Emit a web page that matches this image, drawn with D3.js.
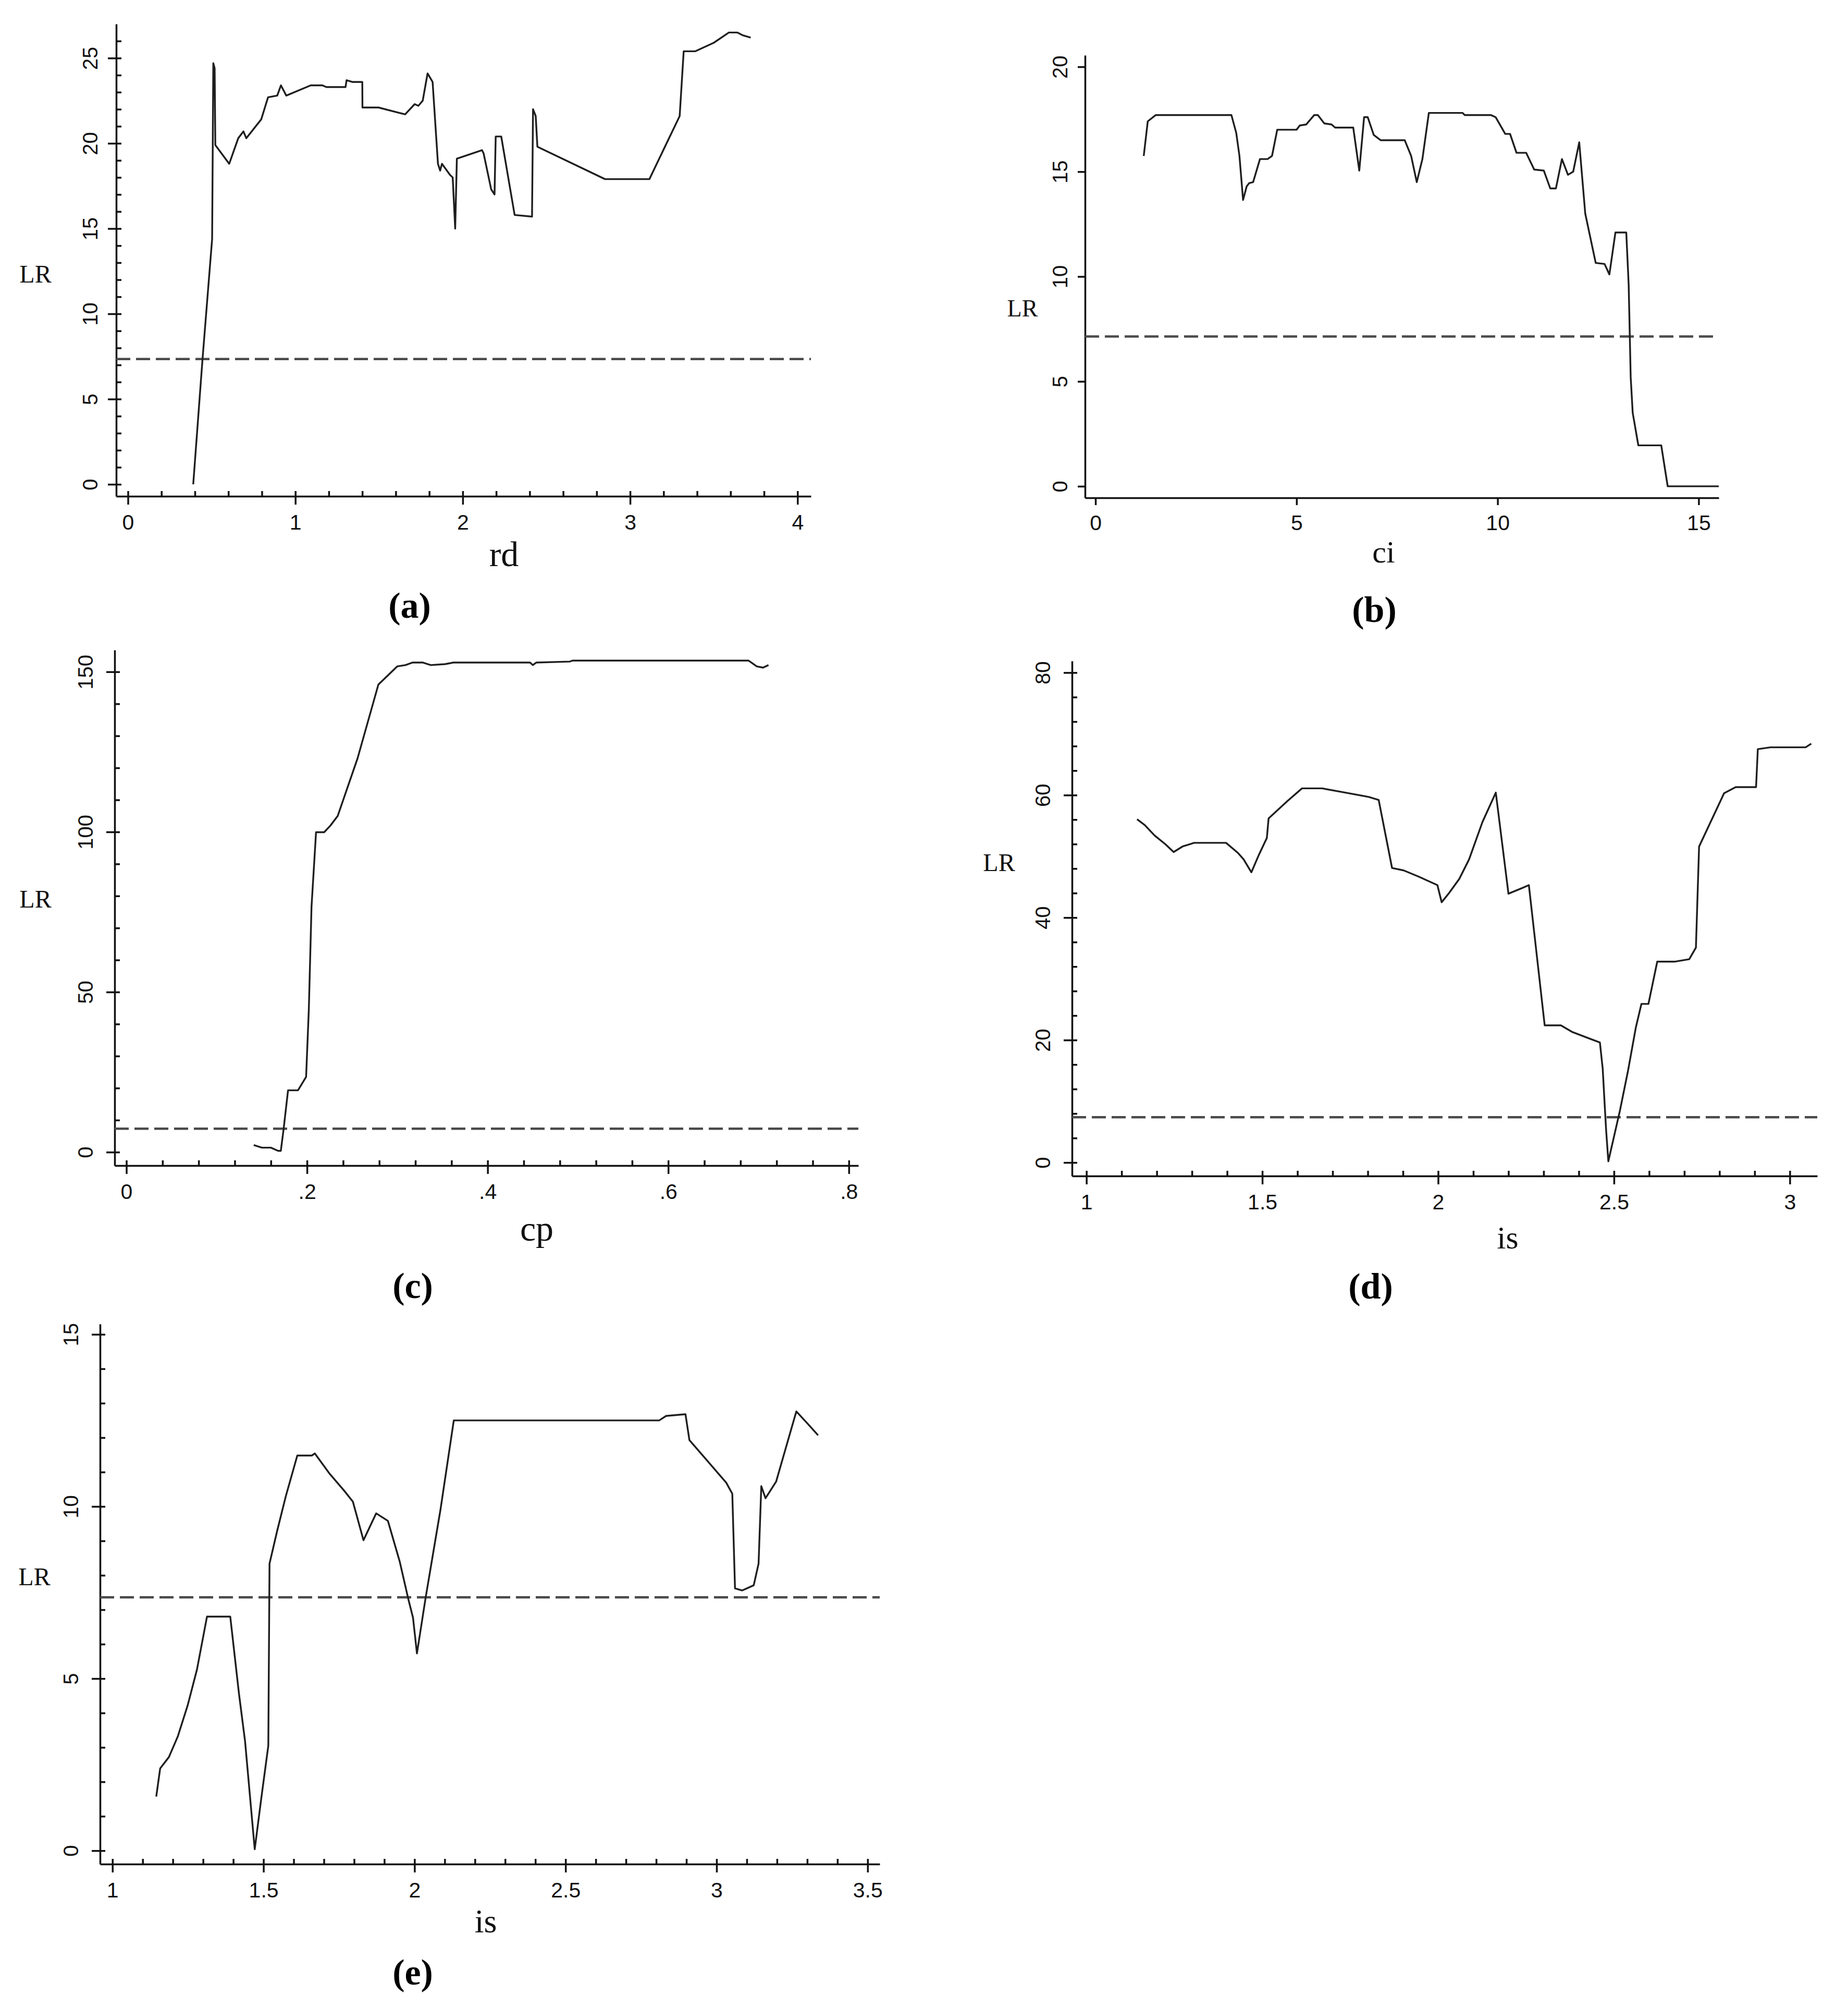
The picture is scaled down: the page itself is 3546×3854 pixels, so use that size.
<!DOCTYPE html>
<html>
<head>
<meta charset="utf-8">
<script src="https://cdnjs.cloudflare.com/ajax/libs/d3/7.8.5/d3.min.js"></script>
<style>
	body { margin: 0; background: #fff; }
</style>
</head>
<body>
<svg></svg>
<script>
// Data: [threshold value, LR]
let rdData = [[0.39, 0], [0.446, 7.4], [0.503, 14.4], [0.51, 24.7], [0.518, 24.4], [0.522, 19.9],
	[0.605, 18.8], [0.659, 20.3], [0.69, 20.7], [0.707, 20.3], [0.796, 21.4], [0.837, 22.7],
	[0.892, 22.8], [0.914, 23.4], [0.946, 22.8], [1.092, 23.4], [1.162, 23.4], [1.185, 23.3],
	[1.3, 23.3], [1.306, 23.7], [1.34, 23.6], [1.4, 23.6], [1.401, 22.1], [1.497, 22.1],
	[1.656, 21.7], [1.713, 22.3], [1.735, 22.2], [1.761, 22.5], [1.79, 24.1], [1.82, 23.6],
	[1.852, 18.8], [1.865, 18.4], [1.876, 18.8], [1.924, 18.15], [1.94, 18.0], [1.955, 15.0],
	[1.965, 19.1], [2.115, 19.6], [2.125, 19.4], [2.17, 17.3], [2.19, 17.0], [2.197, 20.4],
	[2.23, 20.4], [2.31, 15.8], [2.414, 15.7], [2.42, 22.0], [2.436, 21.6], [2.446, 19.8],
	[2.85, 17.9], [3.115, 17.9], [3.296, 21.6], [3.32, 25.4], [3.39, 25.4], [3.5, 25.9],
	[3.59, 26.5], [3.64, 26.5], [3.67, 26.35], [3.72, 26.2]];

let ciData = [[1.2, 15.75], [1.3, 17.4], [1.5, 17.7], [3.38, 17.7], [3.5, 16.85], [3.58, 15.75],
	[3.67, 13.65], [3.76, 14.3], [3.82, 14.45], [3.92, 14.5], [4.09, 15.6], [4.28, 15.6],
	[4.39, 15.75], [4.52, 17.0], [5.0, 17.0], [5.08, 17.2], [5.24, 17.25], [5.44, 17.7],
	[5.53, 17.7], [5.69, 17.3], [5.87, 17.25], [5.96, 17.1], [6.41, 17.1], [6.56, 15.05],
	[6.68, 17.6], [6.77, 17.6], [6.92, 16.75], [7.09, 16.5], [7.69, 16.5], [7.85, 15.75],
	[7.99, 14.5], [8.13, 15.6], [8.29, 17.8], [9.13, 17.8], [9.18, 17.7], [9.83, 17.7],
	[9.95, 17.6], [10.19, 16.8], [10.31, 16.8], [10.47, 15.9], [10.71, 15.9], [10.91, 15.1],
	[11.15, 15.05], [11.31, 14.2], [11.45, 14.2], [11.6, 15.6], [11.75, 14.85], [11.88, 15.0],
	[12.03, 16.4], [12.18, 13.0], [12.44, 10.65], [12.66, 10.6], [12.78, 10.1], [12.93, 12.1],
	[13.2, 12.1], [13.26, 9.6], [13.31, 5.2], [13.36, 3.5], [13.5, 1.95], [14.07, 1.95],
	[14.23, 0], [15.5, 0]];

let cpData = [[0.141, 2.2], [0.15, 1.4], [0.16, 1.4], [0.168, 0.4], [0.171, 0.4], [0.174, 7.0],
	[0.179, 19.3], [0.19, 19.3], [0.199, 23.5], [0.202, 44.5], [0.205, 76.7], [0.21, 99.9],
	[0.219, 99.9], [0.226, 102], [0.234, 105], [0.256, 123], [0.279, 146], [0.3, 151.7],
	[0.309, 152.1], [0.317, 152.9], [0.328, 152.9], [0.337, 152.1], [0.353, 152.4],
	[0.362, 152.9], [0.447, 152.9], [0.45, 152.1], [0.454, 152.9], [0.491, 153.2],
	[0.494, 153.5], [0.689, 153.5], [0.698, 151.7], [0.705, 151.3], [0.711, 152.1]];

let isData = [[1.144, 56.05], [1.166, 55.1], [1.194, 53.4], [1.224, 52.0], [1.248, 50.7],
	[1.273, 51.6], [1.306, 52.2], [1.397, 52.2], [1.43, 50.6], [1.447, 49.5], [1.469, 47.4],
	[1.49, 50.2], [1.513, 53.0], [1.518, 56.2], [1.571, 59.0], [1.613, 61.1], [1.67, 61.1],
	[1.737, 60.4], [1.803, 59.7], [1.831, 59.2], [1.869, 48.1], [1.902, 47.7], [1.944, 46.7],
	[1.998, 45.3], [2.01, 42.5], [2.031, 44.0], [2.06, 46.3], [2.088, 49.5], [2.126, 55.6],
	[2.164, 60.4], [2.2, 43.9], [2.238, 44.8], [2.258, 45.3], [2.303, 22.4], [2.349, 22.4],
	[2.382, 21.3], [2.46, 19.6], [2.468, 15.3], [2.474, 9.0], [2.478, 5.0], [2.484, 0.2],
	[2.517, 8.5], [2.54, 15.0], [2.562, 22.0], [2.578, 25.9], [2.598, 25.9], [2.623, 32.8],
	[2.672, 32.8], [2.714, 33.2], [2.733, 35.1], [2.742, 51.6], [2.813, 60.3], [2.846, 61.3],
	[2.904, 61.3], [2.909, 67.5], [2.945, 67.8], [3.045, 67.8], [3.061, 68.4]];

let is2Data = [[1.145, 1.57], [1.158, 2.39], [1.187, 2.72], [1.216, 3.31], [1.249, 4.22],
	[1.28, 5.27], [1.313, 6.8], [1.39, 6.8], [1.419, 4.55], [1.439, 3.18], [1.471, 0.04],
	[1.493, 1.54], [1.516, 3.05], [1.52, 8.34], [1.545, 9.28], [1.574, 10.3], [1.612, 11.48],
	[1.66, 11.48], [1.67, 11.54], [1.719, 10.95], [1.767, 10.46], [1.796, 10.14], [1.831, 9.02],
	[1.873, 9.8], [1.912, 9.58], [1.951, 8.4], [1.98, 7.29], [1.995, 6.77], [2.008, 5.73],
	[2.037, 7.36], [2.086, 9.91], [2.13, 12.5], [2.81, 12.5], [2.833, 12.63], [2.897, 12.68],
	[2.91, 11.93], [3.032, 10.69], [3.052, 10.37], [3.061, 7.62], [3.085, 7.56], [3.123, 7.71],
	[3.139, 8.34], [3.148, 10.59], [3.162, 10.24], [3.197, 10.72], [3.264, 12.76],
	[3.303, 12.39], [3.336, 12.07]];

// Critical values (dashed lines)
let critValues = [7.35, 7.14, 7.3, 7.4, 7.36];

// Tick labels
let rdTicks = [0, 1, 2, 3, 4];
let ciTicks = [0, 5, 10, 15];
let cpTicks = [0, 0.2, 0.4, 0.6, 0.8];
let isTicks = [1, 1.5, 2, 2.5, 3];
let is2Ticks = [1, 1.5, 2, 2.5, 3, 3.5];
let lrTicksA = [0, 5, 10, 15, 20, 25];
let lrTicksB = [0, 5, 10, 15, 20];
let lrTicksC = [0, 50, 100, 150];
let lrTicksD = [0, 20, 40, 60, 80];
let lrTicksE = [0, 5, 10, 15];

let xNames = ["rd", "ci", "cp", "is", "is"];
let tags = ["(a)", "(b)", "(c)", "(d)", "(e)"];

let width = 3546;
let height = 3854;

let svg = d3.select("svg").attr("width", width).attr("height", height);
svg.append("rect").attr("width", width).attr("height", height).attr("fill", "#fff");

let tickFont = "Liberation Sans, Arial, sans-serif";
let serif = "Liberation Serif, Times New Roman, serif";

let cpFormat = (d) => (d === 0 ? "0" : String(d).replace("0.", "."));

let panels = [
	{ data: rdData, crit: critValues[0], xDomain: [-0.07, 4.08], xRange: [223, 1556],
		yDomain: [-0.7, 27], yRange: [952, 46], xTicks: rdTicks, xMinor: d3.range(0, 4.01, 0.2),
		yTicks: lrTicksA, yMinor: d3.range(0, 27, 1), inner: true, yLabelOff: 50,
		lr: [68, 525, 48], xl: [967, 1066, 68], tag: [786, 1160], xFmt: d3.format("d") },
	{ data: ciData, crit: critValues[1], xDomain: [-0.26, 15.5], xRange: [2082, 3298],
		yDomain: [-0.55, 20.55], yRange: [955, 106], xTicks: ciTicks, xMinor: [],
		yTicks: lrTicksB, yMinor: [], inner: false, yLabelOff: 48,
		lr: [1962, 591, 46], xl: [2655, 1061, 60], tag: [2637, 1168], xFmt: d3.format("d") },
	{ data: cpData, crit: critValues[2], xDomain: [-0.013, 0.8105], xRange: [220, 1647],
		yDomain: [-4.2, 156.8], yRange: [2236, 1247], xTicks: cpTicks, xMinor: d3.range(0, 0.81, 0.04),
		yTicks: lrTicksC, yMinor: d3.range(0, 156, 10), inner: true, yLabelOff: 56,
		lr: [68, 1724, 48], xl: [1030, 2360, 68], tag: [792, 2465], xFmt: cpFormat },
	{ data: isData, crit: critValues[3], xDomain: [0.959, 3.078], xRange: [2057, 3487],
		yDomain: [-2.2, 81.9], yRange: [2256, 1268], xTicks: isTicks, xMinor: d3.range(1, 3.01, 0.1),
		yTicks: lrTicksD, yMinor: d3.range(0, 81, 4), inner: true, yLabelOff: 56,
		lr: [1917, 1654, 48], xl: [2893, 2376, 62], tag: [2630, 2466], xFmt: d3.format("") },
	{ data: is2Data, crit: critValues[4], xDomain: [0.959, 3.54], xRange: [192, 1688],
		yDomain: [-0.39, 15.3], yRange: [3576, 2540], xTicks: is2Ticks, xMinor: d3.range(1, 3.51, 0.1),
		yTicks: lrTicksE, yMinor: d3.range(0, 15.5, 1), inner: true, yLabelOff: 56,
		lr: [66, 3024, 48], xl: [932, 3688, 64], tag: [792, 3782], xFmt: d3.format("") }
];

let drawPanel = (p, i) => {
	let xScale = d3.scaleLinear().domain(p.xDomain).range(p.xRange);
	let yScale = d3.scaleLinear().domain(p.yDomain).range(p.yRange);
	let g = svg.append("g");
	let x0 = p.xRange[0];
	let yBottom = p.yRange[0];

	// x axis, major ticks crossing the line
	let xAxis = d3.axisBottom(xScale).tickValues(p.xTicks).tickSize(p.inner ? 16 : 14)
		.tickSizeOuter(0).tickPadding(19).tickFormat(p.xFmt);
	let gx = g.append("g").attr("transform", "translate(0," + yBottom + ")").call(xAxis);
	gx.selectAll("text").attr("font-family", tickFont).attr("font-size", 41).attr("fill", "#111");

	let yAxis = d3.axisLeft(yScale).tickValues(p.yTicks).tickSize(p.inner ? 16 : 14).tickSizeOuter(0);
	let gy = g.append("g").attr("transform", "translate(" + x0 + ",0)").call(yAxis);
	gy.selectAll("text")
		.attr("x", 0)
		.attr("dy", "0.35em")
		.attr("text-anchor", "middle")
		.attr("transform", "translate(" + -p.yLabelOff + ",0) rotate(-90)")
		.attr("font-family", tickFont).attr("font-size", 40).attr("fill", "#111");

	if (p.inner) {
		let xIn = d3.axisBottom(xScale).tickValues(p.xMinor).tickSize(-10).tickFormat("");
		g.append("g").attr("transform", "translate(0," + yBottom + ")").call(xIn)
			.call((s) => s.select(".domain").remove());
		let yIn = d3.axisLeft(yScale).tickValues(p.yMinor).tickSize(-10).tickFormat("");
		g.append("g").attr("transform", "translate(" + x0 + ",0)").call(yIn)
			.call((s) => s.select(".domain").remove());
	}

	g.selectAll(".domain, .tick line").attr("stroke", "#111").attr("stroke-width", 3.5);

	// critical value
	g.append("line")
		.attr("x1", x0).attr("x2", p.xRange[1])
		.attr("y1", yScale(p.crit)).attr("y2", yScale(p.crit))
		.attr("stroke", "#4a4a4a").attr("stroke-width", 4.5).attr("stroke-dasharray", "27,11");

	// LR curve
	let line = d3.line().x((d) => xScale(d[0])).y((d) => yScale(d[1]));
	g.append("path").datum(p.data).attr("d", line)
		.attr("fill", "none").attr("stroke", "#1e1e1e").attr("stroke-width", 3.4)
		.attr("stroke-linejoin", "round");

	// labels
	g.append("text").attr("x", p.lr[0]).attr("y", p.lr[1]).attr("dy", "0.35em")
		.attr("text-anchor", "middle").attr("font-family", serif).attr("font-size", p.lr[2])
		.attr("fill", "#111").text("LR");
	g.append("text").attr("x", p.xl[0]).attr("y", p.xl[1]).attr("dy", "0.3em")
		.attr("text-anchor", "middle").attr("font-family", serif).attr("font-size", p.xl[2])
		.attr("fill", "#111").text(xNames[i]);
	g.append("text").attr("x", p.tag[0]).attr("y", p.tag[1]).attr("dy", "0.35em")
		.attr("text-anchor", "middle").attr("font-family", serif).attr("font-size", 70)
		.attr("font-weight", "bold").attr("fill", "#000").text(tags[i]);
};

panels.forEach((p, i) => drawPanel(p, i));
</script>
</body>
</html>
